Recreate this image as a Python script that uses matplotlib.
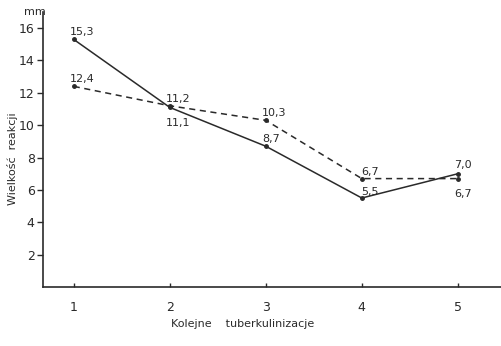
import matplotlib
matplotlib.use("Agg")
import matplotlib.pyplot as plt

# Kolejne tuberkulinizacje
rounds = [1, 2, 3, 4, 5]
solid_vals = [15.3, 11.1, 8.7, 5.5, 7.0]
dashed_vals = [12.4, 11.2, 10.3, 6.7, 6.7]
solid_labels = ["15,3", "11,1", "8,7", "5,5", "7,0"]
dashed_labels = ["12,4", "11,2", "10,3", "6,7", "6,7"]
y_ticks = [2, 4, 6, 8, 10, 12, 14, 16]

# label offsets in points (dx, dy)
solid_offsets = [(6, 5), (6, -11), (4, 5), (6, 4), (4, 6)]
dashed_offsets = [(6, 5), (6, 5), (6, 5), (6, 5), (4, -11)]

plt.rcParams.update({"font.family": "DejaVu Sans", "font.size": 8})
ink = "#2a2a2a"

fig = plt.figure(figsize=(5.02, 3.46), dpi=100)
ax = fig.add_axes([0.0857, 0.1705, 0.9143, 0.795])

ax.plot(rounds, solid_vals, "-", color=ink, lw=1.1, marker="o", ms=2.5)
ax.plot(rounds, dashed_vals, "--", color=ink, lw=1.1, marker="o", ms=2.5,
        dashes=(4, 3))

for x, y, t, (dx, dy) in zip(rounds, solid_vals, solid_labels, solid_offsets):
    ax.annotate(t, (x, y), xytext=(dx, dy), textcoords="offset points",
                ha="center", va="center", fontsize=8, color=ink)
for x, y, t, (dx, dy) in zip(rounds, dashed_vals, dashed_labels, dashed_offsets):
    ax.annotate(t, (x, y), xytext=(dx, dy), textcoords="offset points",
                ha="center", va="center", fontsize=8, color=ink)

ax.set_xlim(0.68, 5.46)
ax.set_ylim(0, 17.0)
ax.set_xticks(rounds)
ax.set_yticks(y_ticks)
ax.tick_params(axis="y", direction="out", length=4, width=1, colors=ink,
               labelsize=9, pad=2)
ax.tick_params(axis="x", direction="in", length=3, width=1, colors=ink,
               labelsize=9, pad=10)

for side in ("top", "right"):
    ax.spines[side].set_visible(False)
for side in ("left", "bottom"):
    ax.spines[side].set_color(ink)
    ax.spines[side].set_linewidth(1.2)

ax.text(0.005, 1.0, "mm", transform=ax.transAxes, ha="right", va="center",
        fontsize=8, color=ink)
fig.text(0.025, 0.54, "Wielkość  reakcji", rotation=90, ha="center",
         va="center", fontsize=8, color=ink)
fig.text(0.34, 0.063, "Kolejne    tuberkulinizacje", ha="left", va="center",
         fontsize=8, color=ink)

fig.savefig("out.png", dpi=100)
